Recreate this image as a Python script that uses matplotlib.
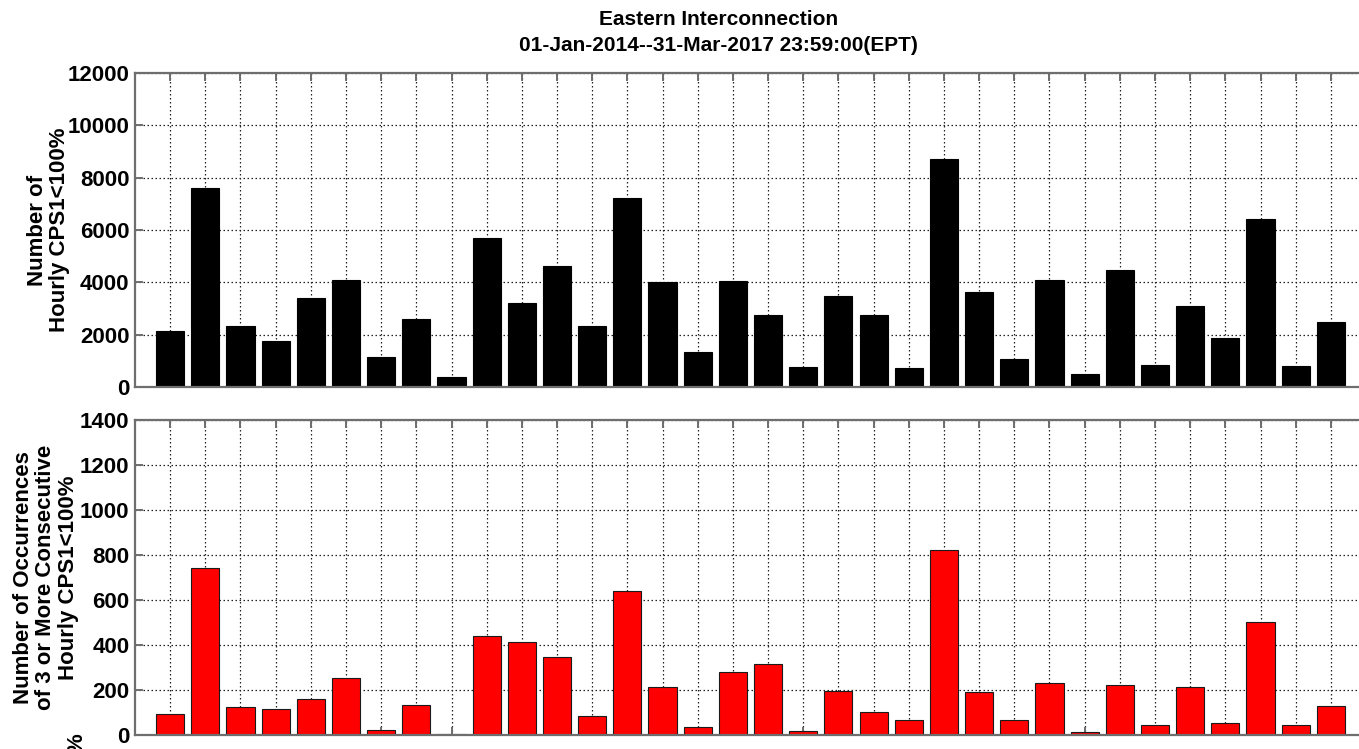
import matplotlib
matplotlib.use("Agg")
import matplotlib.pyplot as plt

plt.rcParams["font.family"] = ["Liberation Sans Narrow", "Liberation Sans", "DejaVu Sans"]
plt.rcParams["font.weight"] = "bold"

# Monthly counts, Jan 2014 onward
months = list(range(1, 35))
hourly_cps1 = [2150, 7600, 2350, 1750, 3420, 4080, 1140, 2600, 380, 5680,
               3200, 4640, 2350, 7230, 4000, 1340, 4060, 2740, 760, 3490,
               2740, 720, 8700, 3630, 1070, 4100, 480, 4480, 860, 3080,
               1880, 6420, 820, 2470]
consecutive_3plus = [95, 740, 125, 115, 160, 255, 20, 135, 5, 440,
                     415, 345, 85, 640, 215, 35, 280, 315, 18, 195,
                     100, 65, 820, 190, 65, 230, 12, 220, 45, 215,
                     55, 500, 45, 130]

top_yticks = [0, 2000, 4000, 6000, 8000, 10000, 12000]
bot_yticks = [0, 200, 400, 600, 800, 1000, 1200, 1400]

fig = plt.figure(figsize=(13.59, 7.49), dpi=100)
ax1 = fig.add_axes([0.0993, 0.4833, 0.9007, 0.4192])
ax2 = fig.add_axes([0.0993, 0.0187, 0.9007, 0.4206])

spine_grey = "#6e6e6e"
label_font = ["Liberation Sans", "DejaVu Sans"]


def style(ax, yticks):
    ax.set_axisbelow(True)
    ax.set_xlim(0, 34.8)
    ax.set_ylim(yticks[0], yticks[-1])
    ax.set_xticks(months)
    ax.set_xticklabels([])
    ax.set_yticks(yticks)
    ax.grid(True, linestyle=(0, (1.2, 2.0)), color="#222222", linewidth=0.9)
    ax.tick_params(axis="both", direction="in", length=6, width=1.4,
                   color=spine_grey, top=True, bottom=True, left=True, right=False)
    ax.tick_params(axis="y", labelsize=16, pad=4)
    for lab in ax.get_yticklabels():
        lab.set_fontweight("bold")
    for side in ("left", "top", "bottom"):
        ax.spines[side].set_color(spine_grey)
        ax.spines[side].set_linewidth(1.6)
    ax.spines["right"].set_visible(False)


ax1.bar(months, hourly_cps1, width=0.8, color="black", edgecolor="black", linewidth=0.8)
style(ax1, top_yticks)
ax1.set_ylabel("Number of\nHourly CPS1<100%", fontsize=16, fontweight="bold",
               family=label_font, labelpad=-2, linespacing=1.1)
ax1.set_title("Eastern Interconnection\n01-Jan-2014--31-Mar-2017 23:59:00(EPT)",
              fontsize=15, fontweight="bold", pad=16, x=0.477, linespacing=1.45)

ax2.bar(months, consecutive_3plus, width=0.8, color="#ff0000", edgecolor="#1a1a1a", linewidth=0.8)
style(ax2, bot_yticks)
ax2.set_ylabel("Number of Occurrences\nof 3 or More Consecutive\nHourly CPS1<100%", fontsize=16,
               fontweight="bold", family=label_font, labelpad=1, linespacing=1.08)

# tail of the next panel's label peeking in at the bottom edge
fig.text(77 / 1359, 1 - 733 / 749, "%", rotation=90, fontsize=16, fontweight="bold",
         family=label_font, ha="center", va="top")

fig.savefig("out.png", dpi=100)
